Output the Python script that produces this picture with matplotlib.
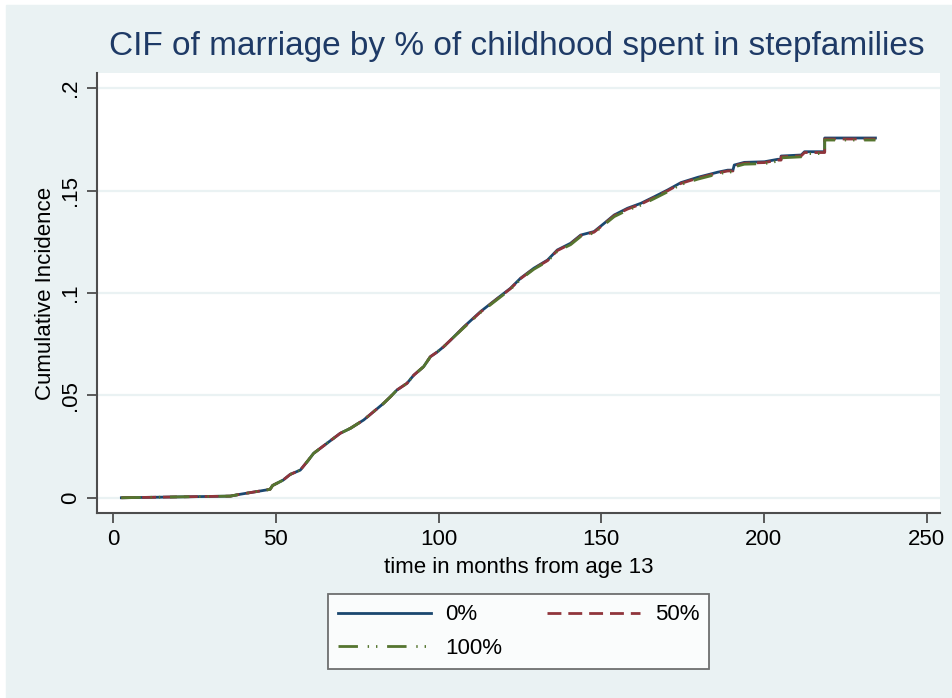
import matplotlib
matplotlib.use("Agg")
import matplotlib.pyplot as plt
from matplotlib.patches import Rectangle

plt.rcParams['font.family'] = ['Liberation Sans', 'DejaVu Sans']

# Данные: время в месяцах и кумулятивная частота
time = [2.5, 23.6, 36.0, 39.0, 44.0, 48.2, 49.0, 52.2, 54.4, 57.5,
        60.0, 61.6, 65.7, 69.8, 72.9, 77.0, 80.0, 83.1, 85.2, 87.2,
        90.3, 92.4, 95.4, 97.5, 99.6, 101.6, 103.7, 107.8, 112.9, 118.1,
        122.1, 125.2, 129.3, 133.5, 136.5, 140.6, 143.7, 147.8, 150.9, 154.0,
        158.1, 162.2, 166.3, 170.4, 174.5, 179.7, 185.8, 188.9, 190.5, 190.9,
        194.0, 200.2, 204.3, 205.3, 205.3, 211.5, 212.5, 218.7, 218.7, 234.3]

cif_0 = [0.0, 0.0005, 0.0008, 0.0017, 0.0030, 0.0041, 0.0060, 0.0086, 0.0114, 0.0135,
         0.0184, 0.0217, 0.0266, 0.0315, 0.0339, 0.0380, 0.0420, 0.0461, 0.0493, 0.0526,
         0.0559, 0.0599, 0.0640, 0.0689, 0.0712, 0.0738, 0.0770, 0.0835, 0.0909, 0.0974,
         0.1023, 0.1072, 0.1121, 0.1161, 0.1210, 0.1243, 0.1283, 0.1300, 0.1340, 0.1381,
         0.1414, 0.1438, 0.1470, 0.1503, 0.1539, 0.1565, 0.1590, 0.1600, 0.1600, 0.1625,
         0.1638, 0.1641, 0.1653, 0.1653, 0.1669, 0.1674, 0.1690, 0.1690, 0.1757, 0.1757]

cif_50 = [0.0, 0.0005, 0.0008, 0.0017, 0.0030, 0.0041, 0.0060, 0.0086, 0.0114, 0.0135,
          0.0184, 0.0217, 0.0266, 0.0315, 0.0339, 0.0380, 0.0420, 0.0461, 0.0493, 0.0526,
          0.0559, 0.0599, 0.0640, 0.0689, 0.0712, 0.0738, 0.0770, 0.0833, 0.0907, 0.0972,
          0.1021, 0.1070, 0.1119, 0.1158, 0.1207, 0.1240, 0.1280, 0.1297, 0.1337, 0.1378,
          0.1410, 0.1434, 0.1466, 0.1499, 0.1535, 0.1561, 0.1586, 0.1596, 0.1596, 0.1621,
          0.1634, 0.1637, 0.1649, 0.1649, 0.1665, 0.1670, 0.1686, 0.1686, 0.1752, 0.1752]

cif_100 = [0.0, 0.0005, 0.0008, 0.0017, 0.0030, 0.0041, 0.0060, 0.0086, 0.0114, 0.0135,
           0.0184, 0.0217, 0.0266, 0.0315, 0.0339, 0.0380, 0.0420, 0.0461, 0.0493, 0.0526,
           0.0559, 0.0599, 0.0640, 0.0689, 0.0712, 0.0738, 0.0770, 0.0831, 0.0905, 0.0969,
           0.1018, 0.1067, 0.1116, 0.1155, 0.1204, 0.1236, 0.1276, 0.1293, 0.1333, 0.1373,
           0.1405, 0.1429, 0.1461, 0.1494, 0.1530, 0.1556, 0.1581, 0.1591, 0.1591, 0.1616,
           0.1629, 0.1632, 0.1644, 0.1644, 0.1660, 0.1665, 0.1681, 0.1681, 0.1747, 0.1747]

labels = ['0%', '50%', '100%']
x_ticks = [0, 50, 100, 150, 200, 250]
y_ticks = [0, 0.05, 0.1, 0.15, 0.2]
y_tick_labels = ['0', '.05', '.1', '.15', '.2']

navy = '#1A476F'
maroon = '#90353B'
green = '#55752F'
bg = '#EAF2F3'
axcol = '#4d4d4d'

fig = plt.figure(figsize=(9.53, 6.98), dpi=100, facecolor='white')
# фон области графика (как в Stata)
fig.patches.append(Rectangle((6 / 953, 0), 1, (698 - 5) / 698,
                             transform=fig.transFigure, color=bg, zorder=-10))

ax = fig.add_axes([96.7 / 953, 1 - 512.7 / 698, (940.5 - 96.7) / 953, (512.7 - 73.3) / 698])
ax.set_facecolor('white')

l0, = ax.plot(time, cif_0, color=navy, lw=2.0, label=labels[0])
l50, = ax.plot(time, cif_50, color=maroon, lw=2.0, dashes=(5, 2.5), label=labels[1])
l100, = ax.plot(time, cif_100, color=green, lw=2.0, dashes=(7, 3.5, 0.5, 2.5, 0.5, 3.5), label=labels[2])

ax.set_xlim(-5.08, 254.3)
ax.set_ylim(-0.0073, 0.2073)
ax.set_xticks(x_ticks)
ax.set_yticks(y_ticks)
ax.set_yticklabels(y_tick_labels, rotation=90, va='center')
ax.grid(axis='y', color=bg, lw=1.6)
ax.set_axisbelow(True)

for s in ['top', 'right']:
    ax.spines[s].set_visible(False)
for s in ['left', 'bottom']:
    ax.spines[s].set_color(axcol)
    ax.spines[s].set_linewidth(1.5)
ax.tick_params(direction='out', length=7, width=1.3, color=axcol, labelsize=16)
ax.tick_params(axis='x', pad=5)
ax.tick_params(axis='y', pad=4)

fig.text(0.5428, 1 - 46 / 698, 'CIF of marriage by % of childhood spent in stepfamilies',
         ha='center', va='center', fontsize=24, color='#1E3A66')
fig.text(518.6 / 953, 1 - 567 / 698, 'time in months from age 13',
         ha='center', va='center', fontsize=16)
fig.text(46 / 953, 1 - 293 / 698, 'Cumulative Incidence',
         ha='center', va='center', fontsize=16, rotation=90)

# порядок как в Stata: строки 0% | 50%, затем 100%
leg = fig.legend([l0, l100, l50], [labels[0], labels[2], labels[1]],
                 loc='center', bbox_to_anchor=(518.5 / 953, 1 - 631.5 / 698),
                 ncol=2, fontsize=16, handlelength=4.2, handletextpad=0.65,
                 columnspacing=2.0, labelspacing=0.55, borderpad=0.45,
                 fancybox=False, frameon=True)
leg.get_frame().set_edgecolor(axcol)
leg.get_frame().set_linewidth(1.3)
leg.get_frame().set_facecolor('white')

plt.savefig('out.png', dpi=100, facecolor=fig.get_facecolor())
